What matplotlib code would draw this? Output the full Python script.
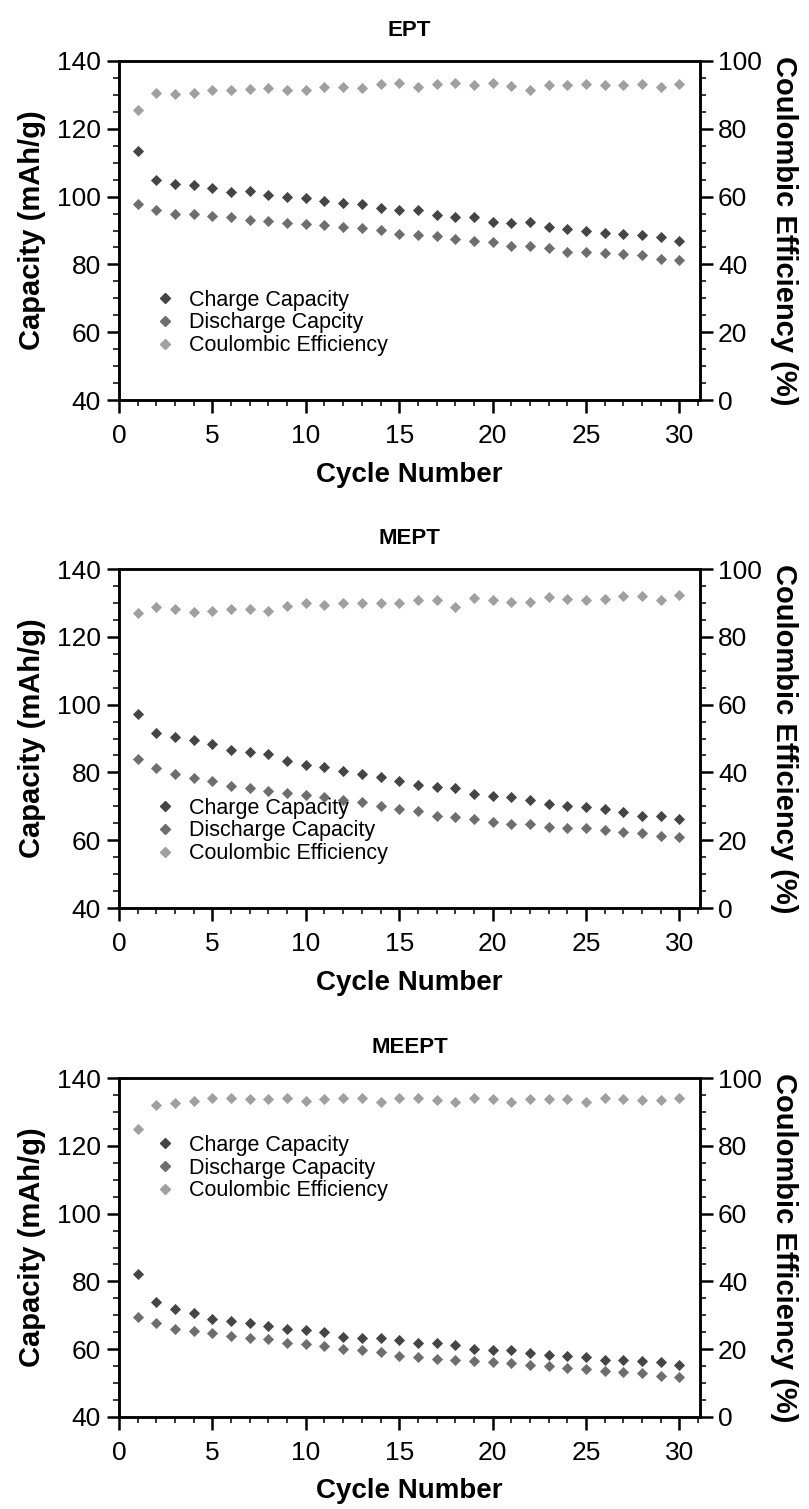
import matplotlib
matplotlib.use("Agg")
import matplotlib.pyplot as plt
from matplotlib.ticker import MultipleLocator, AutoMinorLocator
from matplotlib.lines import Line2D

plt.rcParams['font.family'] = ['Liberation Sans', 'DejaVu Sans']

cycles = list(range(1, 31))

titles = ["EPT", "MEPT", "MEEPT"]
legend_labels = [
    ["Charge Capacity", "Discharge Capcity", "Coulombic Efficiency"],
    ["Charge Capacity", "Discharge Capacity", "Coulombic Efficiency"],
    ["Charge Capacity", "Discharge Capacity", "Coulombic Efficiency"],
]

ept_charge = [113.4, 105.0, 103.8, 103.5, 102.4, 101.4, 101.6, 100.4, 99.9, 99.6,
              98.6, 98.1, 97.9, 96.5, 95.9, 96.0, 94.5, 94.0, 93.9, 92.4,
              92.2, 92.4, 91.0, 90.5, 90.0, 89.3, 89.1, 88.6, 88.1, 86.8]
ept_discharge = [97.8, 96.0, 95.0, 94.9, 94.4, 94.0, 93.2, 92.9, 92.2, 91.9,
                 91.7, 91.0, 90.7, 90.2, 89.1, 88.8, 88.3, 87.5, 87.0, 86.5,
                 85.3, 85.3, 84.8, 83.8, 83.8, 83.5, 83.2, 82.9, 81.7, 81.2]
ept_ce = [85.4, 90.6, 90.3, 90.6, 91.3, 91.5, 91.6, 92.0, 91.5, 91.5,
          92.3, 92.3, 92.1, 93.3, 93.6, 92.3, 93.1, 93.5, 93.0, 93.5,
          92.7, 91.3, 92.8, 93.0, 93.1, 93.0, 92.8, 93.1, 92.4, 93.1]

mept_charge = [97.2, 91.7, 90.5, 89.5, 88.5, 86.7, 86.0, 85.3, 83.3, 82.1,
               81.6, 80.4, 79.6, 78.6, 77.6, 76.4, 75.6, 75.4, 73.7, 73.0,
               72.7, 71.9, 70.7, 70.0, 69.7, 69.2, 68.2, 67.2, 67.2, 66.2]
mept_discharge = [84.1, 81.4, 79.6, 78.4, 77.4, 76.1, 75.4, 74.4, 73.9, 73.4,
                  72.8, 71.9, 71.4, 70.1, 69.1, 68.6, 67.2, 66.9, 66.2, 65.5,
                  64.9, 64.7, 64.0, 63.7, 63.5, 62.9, 62.5, 62.2, 61.2, 60.9]
mept_ce = [86.9, 88.9, 88.3, 87.4, 87.6, 88.1, 88.1, 87.6, 89.1, 89.9,
           89.3, 90.1, 89.9, 90.1, 90.1, 90.9, 90.9, 88.8, 91.3, 90.9,
           90.3, 90.3, 91.6, 91.1, 90.9, 91.1, 92.1, 92.1, 90.9, 92.3]

meept_charge = [82.3, 73.8, 71.8, 70.6, 69.0, 68.4, 67.7, 66.7, 65.9, 65.7,
                65.1, 63.7, 63.2, 63.4, 62.6, 61.9, 61.7, 61.2, 60.2, 59.9,
                59.9, 58.9, 58.4, 57.9, 57.7, 56.7, 56.7, 56.6, 56.1, 55.2]
meept_discharge = [69.6, 67.7, 65.9, 65.4, 64.9, 63.9, 63.4, 62.9, 61.9, 61.4,
                   60.9, 60.1, 59.9, 59.1, 58.1, 57.7, 57.2, 56.9, 56.4, 56.1,
                   55.9, 55.4, 54.9, 54.4, 54.1, 53.6, 53.4, 52.9, 52.1, 51.7]
meept_ce = [85.1, 92.0, 92.7, 93.3, 94.0, 94.0, 93.7, 93.8, 94.0, 93.3,
            93.8, 94.0, 94.0, 92.8, 94.0, 94.0, 93.5, 92.8, 94.0, 93.8,
            92.8, 93.8, 93.7, 93.8, 93.0, 94.0, 93.8, 93.5, 93.5, 94.0]

charges = [ept_charge, mept_charge, meept_charge]
discharges = [ept_discharge, mept_discharge, meept_discharge]
ces = [ept_ce, mept_ce, meept_ce]

W, H = 809, 1509
fig = plt.figure(figsize=(W / 100, H / 100), dpi=100)

# axes boxes in pixels: (left, top, right, bottom)
boxes = [(119, 61, 700, 400), (119, 569, 700, 908), (119, 1078, 700, 1417)]
legend_anchor = [(0.035, 0.085), (0.035, 0.085), (0.035, 0.592)]

c_charge = "#454545"
c_dis = "#6e6e6e"
c_ce = "#a0a0a0"
ms = 5

for i in range(3):
    l, t, r, b = boxes[i]
    ax = fig.add_axes([l / W, 1 - b / H, (r - l) / W, (b - t) / H])
    ax2 = ax.twinx()
    ax.plot(cycles, charges[i], linestyle='none', marker='D', ms=ms,
            mfc=c_charge, mec=c_charge, mew=0.6)
    ax.plot(cycles, discharges[i], linestyle='none', marker='D', ms=ms,
            mfc=c_dis, mec=c_dis, mew=0.6)
    ax2.plot(cycles, ces[i], linestyle='none', marker='D', ms=ms,
             mfc=c_ce, mec=c_ce, mew=0.6)

    ax.set_xlim(0, 31.1)
    ax.set_ylim(40, 140)
    ax2.set_ylim(0, 100)
    ax.xaxis.set_major_locator(MultipleLocator(5))
    ax.xaxis.set_minor_locator(MultipleLocator(1))
    ax.yaxis.set_major_locator(MultipleLocator(20))
    ax.yaxis.set_minor_locator(AutoMinorLocator(4))
    ax2.yaxis.set_major_locator(MultipleLocator(20))
    ax2.yaxis.set_minor_locator(AutoMinorLocator(4))

    for a in (ax, ax2):
        for s in a.spines.values():
            s.set_linewidth(1.8)
        a.tick_params(which='major', direction='out', length=9, width=1.8,
                      labelsize=19, pad=4)
        a.tick_params(which='minor', direction='out', length=4.5, width=1.1)
    ax.tick_params(axis='x', which='major', pad=8)

    ax.set_title(titles[i], fontsize=16, fontweight='bold', pad=18)
    ax.set_xlabel("Cycle Number", fontsize=20, fontweight='bold', labelpad=10)
    ax.set_ylabel("Capacity (mAh/g)", fontsize=21, fontweight='bold', labelpad=8)
    ax2.set_ylabel("Coulombic Efficiency (%)", fontsize=21, fontweight='bold',
                   rotation=270, labelpad=26)

    handles = [
        Line2D([], [], linestyle='none', marker='D', ms=ms, mfc=c_charge, mec=c_charge),
        Line2D([], [], linestyle='none', marker='D', ms=ms, mfc=c_dis, mec=c_dis),
        Line2D([], [], linestyle='none', marker='D', ms=ms, mfc=c_ce, mec=c_ce),
    ]
    ax2.legend(handles, legend_labels[i], loc='lower left',
               bbox_to_anchor=legend_anchor[i], frameon=False, fontsize=15.5,
               handlelength=1.0, handletextpad=0.6, labelspacing=0.08,
               borderpad=0.2)

fig.savefig("out.png", dpi=100)
